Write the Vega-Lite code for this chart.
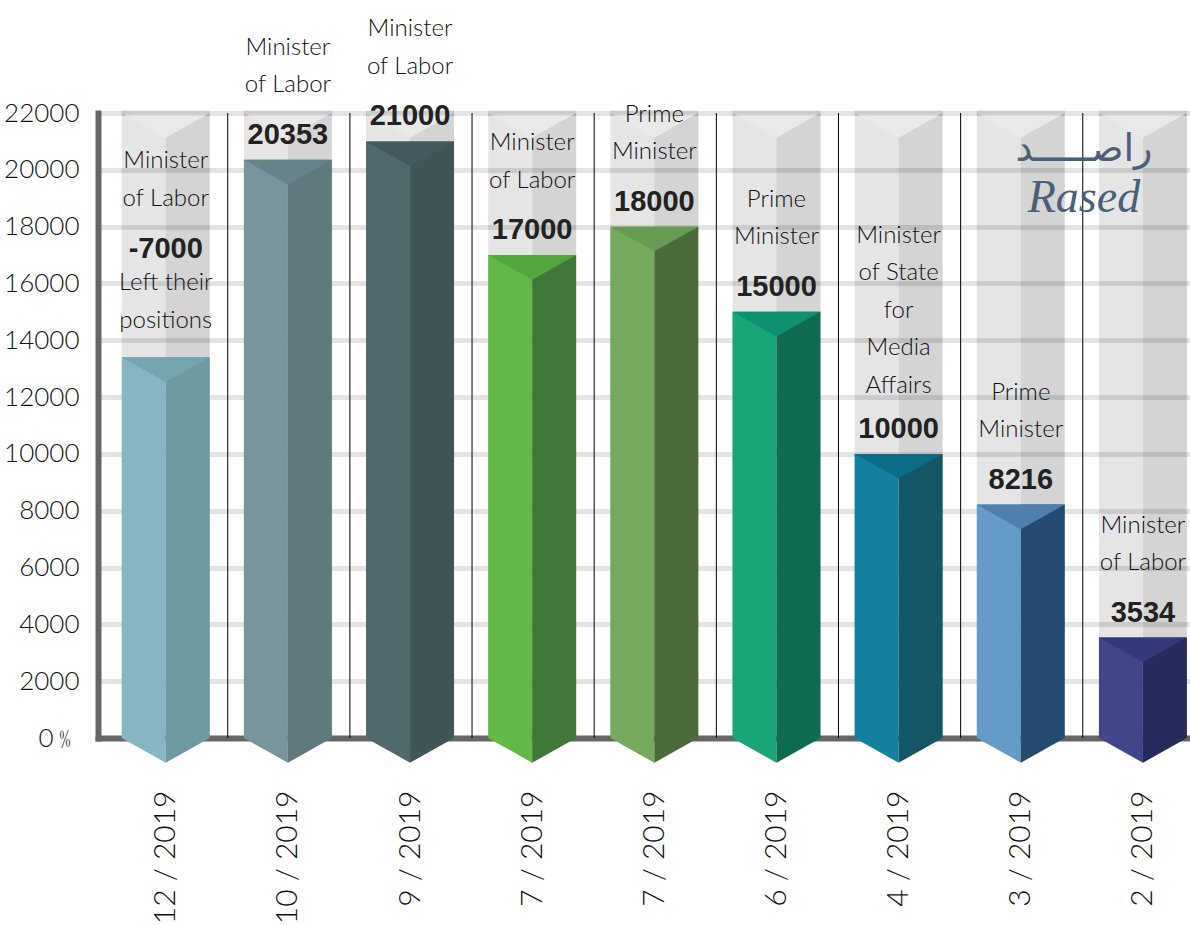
{
"$schema":"https://vega.github.io/schema/vega-lite/v6.json",
"width":1092,"height":625,"autosize":"none",
"padding":{"left":98,"top":113,"right":0,"bottom":187},
"background":"white",
"config":{"view":{"stroke":null}},
"datasets":{
"bars":[
{"slot":"12 / 2019","value":13400,"shown":"-7000","title":"Minister\nof Labor","note":"Left their\npositions"},
{"slot":"10 / 2019","value":20353,"shown":"20353","title":"Minister\nof Labor"},
{"slot":"9 / 2019","value":21000,"shown":"21000","title":"Minister\nof Labor"},
{"slot":"7 / 2019","value":17000,"shown":"17000","title":"Minister\nof Labor"},
{"slot":"7 / 2019 ","value":18000,"shown":"18000","title":"Prime\nMinister"},
{"slot":"6 / 2019","value":15000,"shown":"15000","title":"Prime\nMinister"},
{"slot":"4 / 2019","value":10000,"shown":"10000","title":"Minister\nof State\nfor\nMedia\nAffairs"},
{"slot":"3 / 2019","value":8216,"shown":"8216","title":"Prime\nMinister"},
{"slot":"2 / 2019","value":3534,"shown":"3534","title":"Minister\nof Labor"}
],
"logo":[{"slot":"2 / 2019","arabic":"راصـــــد","latin":"Rased"}]
},
"data":{"name":"bars"},
"encoding":{"x":{"field":"slot","type":"nominal","sort":null,
"scale":{"type":"point","padding":0.47,"align":0.59},
"axis":{"title":null,"orient":"bottom","ticks":false,"domain":true,"domainColor":"#666666","domainWidth":6,"domainCap":"square","labelAngle":-90,"labelAlign":"right","labelBaseline":"middle","labelPadding":52,"labelFont":"Lato","labelFontWeight":300,"labelFontSize":30,"labelColor":"#111111","labelLimit":400,"labelOverlap":false,"grid":false}}},
"resolve":{"scale":{"color":"independent"}},
"layer":[
{"mark":{"type":"bar","width":44,"xOffset":-22,"color":"#000000","opacity":0.1},
"encoding":{"y":{"datum":22000,"type":"quantitative","scale":{"domain":[0,22000],"nice":false},
"axis":{"title":null,"values":[0,2000,4000,6000,8000,10000,12000,14000,16000,18000,20000,22000],"ticks":false,"domain":true,"domainColor":"#666666","domainWidth":6,"domainCap":"square","grid":true,"gridColor":"#e3e3e3","gridWidth":5,"labelFont":"Lato","labelFontWeight":300,"labelFontSize":26,"labelColor":"#111111","labelPadding":19,"labelOverlap":false,"labelBound":false,"labelFlush":false,"labelExpr":"datum.value === 0 ? '0﹪' : datum.value"}},"y2":{"datum":0}}},
{"mark":{"type":"bar","width":44,"xOffset":22,"color":"#000000","opacity":0.17},
"encoding":{"y":{"datum":22000,"type":"quantitative"},"y2":{"datum":0}}},
{"mark":{"type":"point","filled":true,"opacity":1,"strokeWidth":0,"color":"#e9e9e9","size":7744,"shape":"M-1,0L1,0L0,0.56Z"},
"encoding":{"y":{"datum":22000,"type":"quantitative"}}},
{"mark":{"type":"tick","orient":"horizontal","size":88,"thickness":5,"color":"#000000","opacity":0.11},
"encoding":{"y":{"datum":22000,"type":"quantitative"}}},
{"transform":[{"filter":"datum.slot !== '2 / 2019'"}],
"mark":{"type":"rule","xOffset":62,"color":"#000000","strokeWidth":1},
"encoding":{"y":{"datum":22000,"type":"quantitative"},"y2":{"datum":0}}},
{"data":{"name":"logo"},"mark":{"type":"text","font":"DejaVu Sans","fontSize":38,"color":"#4b6078","dx":-59,"baseline":"alphabetic"},
"encoding":{"y":{"datum":20300,"type":"quantitative"},"text":{"field":"arabic"}}},
{"data":{"name":"logo"},"mark":{"type":"text","font":"Liberation Serif","fontStyle":"italic","fontSize":46,"color":"#4b6078","dx":-59,"baseline":"alphabetic"},
"encoding":{"y":{"datum":18500,"type":"quantitative"},"text":{"field":"latin"}}},
{"mark":{"type":"bar","width":44,"xOffset":-22},
"encoding":{"y":{"field":"value","type":"quantitative","stack":null,"title":null},
"color":{"field":"slot","type":"nominal","legend":null,"sort":null,"scale":{"domain":["12 / 2019","10 / 2019","9 / 2019","7 / 2019","7 / 2019 ","6 / 2019","4 / 2019","3 / 2019","2 / 2019"],"range":["#86B6C1","#78949D","#50696D","#64B846","#75A95E","#18A578","#12819F","#659BC7","#3F468A"]}}}},
{"mark":{"type":"point","filled":true,"opacity":1,"strokeWidth":0,"size":7744,"shape":"M-1,0L0,0L0,0.56Z"},
"encoding":{"y":{"datum":0,"type":"quantitative"},
"color":{"field":"slot","type":"nominal","legend":null,"sort":null,"scale":{"domain":["12 / 2019","10 / 2019","9 / 2019","7 / 2019","7 / 2019 ","6 / 2019","4 / 2019","3 / 2019","2 / 2019"],"range":["#86B6C1","#78949D","#50696D","#64B846","#75A95E","#18A578","#12819F","#659BC7","#3F468A"]}}}},
{"mark":{"type":"bar","width":44,"xOffset":22},
"encoding":{"y":{"field":"value","type":"quantitative","stack":null,"title":null},
"color":{"field":"slot","type":"nominal","legend":null,"sort":null,"scale":{"domain":["12 / 2019","10 / 2019","9 / 2019","7 / 2019","7 / 2019 ","6 / 2019","4 / 2019","3 / 2019","2 / 2019"],"range":["#6E9AA1","#60797F","#405558","#40783A","#4B6C3A","#0E6B52","#145665","#244B6F","#262B5B"]}}}},
{"mark":{"type":"point","filled":true,"opacity":1,"strokeWidth":0,"size":7744,"shape":"M0,0L1,0L0,0.56Z"},
"encoding":{"y":{"datum":0,"type":"quantitative"},
"color":{"field":"slot","type":"nominal","legend":null,"sort":null,"scale":{"domain":["12 / 2019","10 / 2019","9 / 2019","7 / 2019","7 / 2019 ","6 / 2019","4 / 2019","3 / 2019","2 / 2019"],"range":["#6E9AA1","#60797F","#405558","#40783A","#4B6C3A","#0E6B52","#145665","#244B6F","#262B5B"]}}}},
{"mark":{"type":"point","filled":true,"opacity":1,"strokeWidth":0,"size":7744,"shape":"M-1,0L1,0L0,0.56Z"},
"encoding":{"y":{"field":"value","type":"quantitative","title":null},
"color":{"field":"slot","type":"nominal","legend":null,"sort":null,"scale":{"domain":["12 / 2019","10 / 2019","9 / 2019","7 / 2019","7 / 2019 ","6 / 2019","4 / 2019","3 / 2019","2 / 2019"],"range":["#74A6B0","#668389","#44595D","#55A63F","#659B52","#0F9070","#0B6C86","#4F7FAE","#33397A"]}}}},
{"transform":[{"filter":"!datum.note"}],
"mark":{"type":"text","font":"Liberation Sans","fontWeight":"bold","fontSize":29,"color":"#222222","dy":-16,"baseline":"alphabetic"},
"encoding":{"y":{"field":"value","type":"quantitative","title":null},"text":{"field":"shown"}}},
{"transform":[{"filter":"!datum.note && datum.slot !== '4 / 2019'"}],
"mark":{"type":"text","font":"Lato","fontWeight":300,"fontSize":24,"color":"#111111","dy":-105,"baseline":"alphabetic","lineBreak":"\n","lineHeight":37.5},
"encoding":{"y":{"field":"value","type":"quantitative","title":null},"text":{"field":"title"}}},
{"transform":[{"filter":"datum.slot === '4 / 2019'"}],
"mark":{"type":"text","font":"Lato","fontWeight":300,"fontSize":24,"color":"#111111","dy":-211,"baseline":"alphabetic","lineBreak":"\n","lineHeight":37.5},
"encoding":{"y":{"field":"value","type":"quantitative","title":null},"text":{"field":"title"}}},
{"transform":[{"filter":"datum.note"}],
"mark":{"type":"text","font":"Liberation Sans","fontWeight":"bold","fontSize":29,"color":"#222222","dy":-99,"baseline":"alphabetic"},
"encoding":{"y":{"field":"value","type":"quantitative","title":null},"text":{"field":"shown"}}},
{"transform":[{"filter":"datum.note"}],
"mark":{"type":"text","font":"Lato","fontWeight":300,"fontSize":24,"color":"#111111","dy":-189,"baseline":"alphabetic","lineBreak":"\n","lineHeight":37.5},
"encoding":{"y":{"field":"value","type":"quantitative","title":null},"text":{"field":"title"}}},
{"transform":[{"filter":"datum.note"}],
"mark":{"type":"text","font":"Lato","fontWeight":300,"fontSize":24,"color":"#111111","dy":-67,"baseline":"alphabetic","lineBreak":"\n","lineHeight":37.5},
"encoding":{"y":{"field":"value","type":"quantitative","title":null},"text":{"field":"note"}}}
]
}
